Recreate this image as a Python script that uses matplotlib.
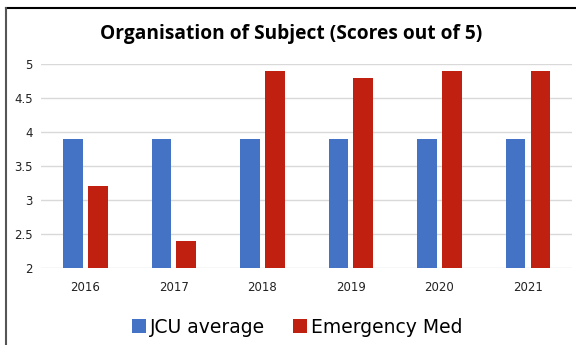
import matplotlib.pyplot as plt
import numpy as np
from matplotlib.lines import Line2D

anos = ["2016", "2017", "2018", "2019", "2020", "2021"]
jcu_media = [3.9, 3.9, 3.9, 3.9, 3.9, 3.9]
emergencia = [3.2, 2.4, 4.9, 4.8, 4.9, 4.9]
series = ["JCU average", "Emergency Med"]
cores = ["#4472C4", "#C0200F"]

fig = plt.figure(figsize=(5.76, 3.45), dpi=100)
ax = fig.add_axes([0.0715, 0.223, 0.922, 0.5915])

x = np.arange(len(anos))
largura = 0.225
ax.bar(x - 0.141, jcu_media, largura, color=cores[0], label=series[0], zorder=3)
ax.bar(x + 0.141, emergencia, largura, color=cores[1], label=series[1], zorder=3)

ax.set_ylim(2, 5)
ax.set_xlim(-0.5, len(anos) - 0.5)
ax.set_yticks([2, 2.5, 3, 3.5, 4, 4.5, 5])
ax.set_yticklabels(["2", "2.5", "3", "3.5", "4", "4.5", "5"])
ax.set_xticks(x)
ax.set_xticklabels(anos)
ax.tick_params(length=0, labelsize=8.5, colors="#222222")
ax.tick_params(axis="x", pad=9)
ax.tick_params(axis="y", pad=6)
ax.grid(axis="y", color="#D9D9D9", lw=1, zorder=0)
for s in ax.spines.values():
    s.set_visible(False)

fig.text(0.505, 0.902, "Organisation of Subject (Scores out of 5)", ha="center",
         va="center", fontsize=13.8, fontweight="bold", family="Open Sans")

ax.legend(loc="center", bbox_to_anchor=(0.482, -0.29), ncol=2, frameon=False,
          fontsize=13.5, handlelength=0.75, handleheight=0.75, handletextpad=0.25,
          columnspacing=1.45)

# moldura (linha superior e esquerda)
fig.add_artist(Line2D([0.0104, 1.0], [0.977, 0.977], color="black", lw=1.5,
                      transform=fig.transFigure))
fig.add_artist(Line2D([0.0104, 0.0104], [0.0, 0.977], color="#555555", lw=1.5,
                      transform=fig.transFigure))

fig.savefig("out.png", dpi=100)
